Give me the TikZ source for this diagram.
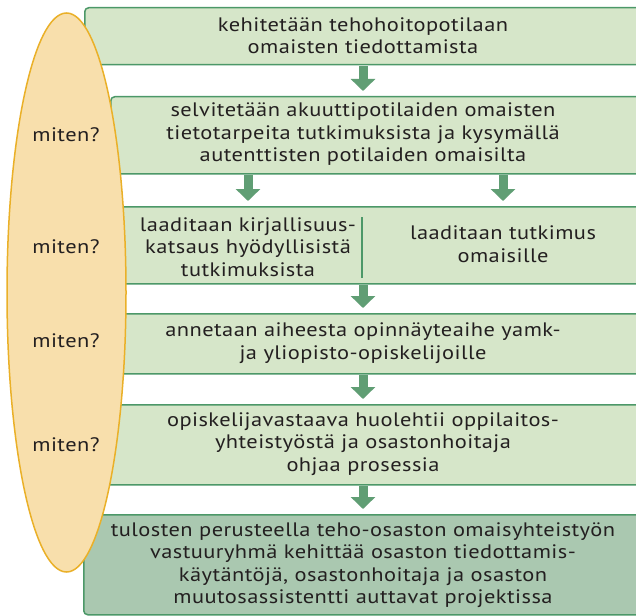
\documentclass[tikz,border=0pt]{standalone}
\usepackage{fontspec}
\setmainfont{PT Sans}[FakeStretch=1.15, LetterSpace=2.3]
\usetikzlibrary{arrows.meta,shapes.geometric}
\definecolor{boxfill}{RGB}{214,230,201}
\definecolor{boxline}{RGB}{76,152,104}
\definecolor{darkfill}{RGB}{170,200,176}
\definecolor{arrowc}{RGB}{96,158,116}
\definecolor{ellfill}{RGB}{248,223,172}
\definecolor{ellline}{RGB}{234,176,40}
\definecolor{txt}{RGB}{35,31,32}
\begin{document}
\begin{tikzpicture}[x=1pt,y=-1pt,
  box/.style={draw=boxline, fill=boxfill, line width=1.5pt, rounded corners=4pt, inner sep=0pt, anchor=north west},
  lbl/.style={font=\fontsize{19.5}{22.5}\selectfont, text=txt, align=center, inner sep=0pt},
  flow/.style={draw=arrowc, line width=9pt, -{Triangle[width=24pt,length=12pt]}, shorten >=5pt, shorten <=0.75pt},
  ]
\clip (0,0) rectangle (636,615);
\fill[white] (0,0) rectangle (636,615);
% boxes
\node[box, minimum width=560pt, minimum height=57pt] (b1) at (84,7) {};
\node[box, minimum width=534pt, minimum height=77pt] (b2) at (110,96) {};
\node[box, minimum width=544pt, minimum height=77pt] (b3) at (100,206) {};
\node[box, minimum width=544pt, minimum height=60pt] (b4) at (100,313) {};
\node[box, minimum width=544pt, minimum height=80pt] (b5) at (100,404) {};
\node[box, fill=darkfill, minimum width=561pt, minimum height=100pt] (b6) at (83,514) {};
\draw[boxline, line width=1.2pt] (362,217) -- (362,278);
% texts
\node[lbl] (t1) at (363,35.5) {kehitetään tehohoitopotilaan\\omaisten tiedottamista};
\node[lbl] (t2) at (363,134.5) {selvitetään akuuttipotilaiden omaisten\\tietotarpeita tutkimuksista ja kysymällä\\autenttisten potilaiden omaisilta};
\node[lbl] (t3a) at (248,247) {laaditaan kirjallisuus-\\katsaus hyödyllisistä\\tutkimuksista};
\node[lbl] (t3b) at (503,244) {laaditaan tutkimus\\omaisille};
\node[lbl] (t4) at (363,343) {annetaan aiheesta opinnäyteaihe yamk-\\ja yliopisto-opiskelijoille};
\node[lbl] (t5) at (363,444) {opiskelijavastaava huolehtii oppilaitos-\\yhteistyöstä ja osastonhoitaja\\ohjaa prosessia};
\node[lbl] (t6) at (363,565) {tulosten perusteella teho-osaston omaisyhteistyön\\vastuuryhmä kehittää osaston tiedottamis-\\käytäntöjä, osastonhoitaja ja osaston\\muutosassistentti auttavat projektissa};
% arrows
\draw[flow] (b1.south -| t1.center) -- (b2.north -| t1.center);
\draw[flow] (b2.south -| t3a.center) -- (b3.north -| t3a.center);
\draw[flow] (b2.south -| t3b.center) -- (b3.north -| t3b.center);
\draw[flow] (b3.south -| t4.center) -- (b4.north -| t4.center);
\draw[flow] (b4.south -| t4.center) -- (b5.north -| t4.center);
\draw[flow] (b5.south -| t5.center) -- (b6.north -| t5.center);
% ellipse
\node[ellipse, draw=ellline, fill=ellfill, line width=1.5pt, minimum width=119pt, minimum height=559pt, inner sep=0pt] (e) at (66.5,292.5) {};
\node[lbl] (m1) at (66,135) {miten?};
\node[lbl] (m2) at (66,247) {miten?};
\node[lbl] (m3) at (66,341) {miten?};
\node[lbl] (m4) at (66,445) {miten?};
\end{tikzpicture}
\end{document}
